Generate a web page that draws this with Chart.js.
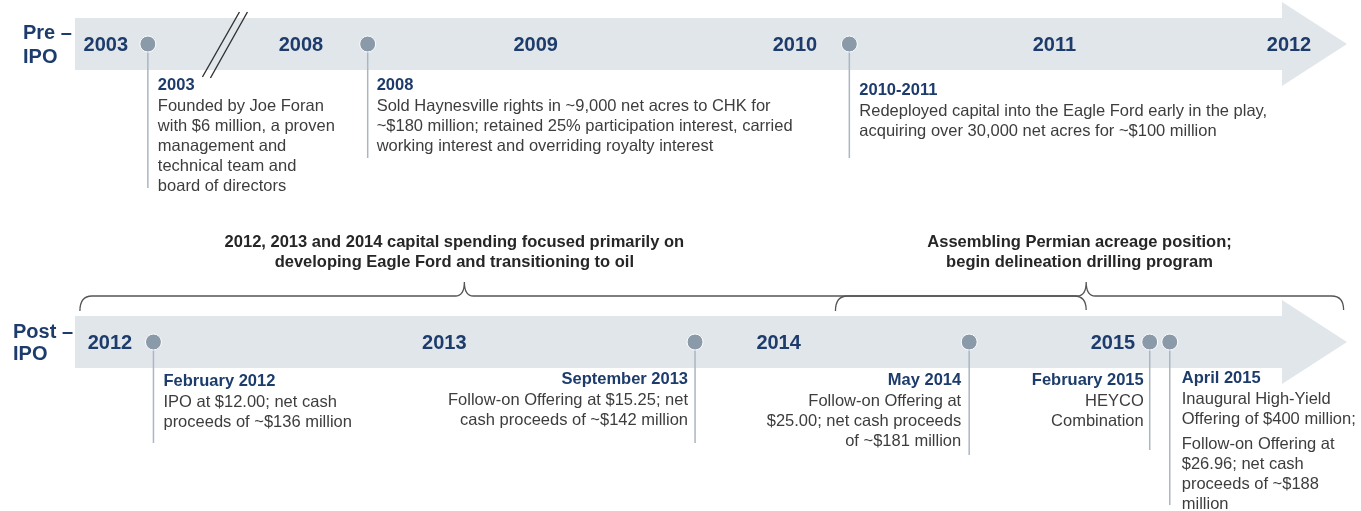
<!DOCTYPE html>
<html lang="en">
<head>
<meta charset="UTF-8" />
<title>Company Timeline: Pre-IPO and Post-IPO</title>
<script src="https://cdn.jsdelivr.net/npm/chart.js"></script>
<style>
  html, body { margin: 0; padding: 0; background: #fff; }
  .chart-box { position: relative; width: 1361px; height: 511px; }
</style>
</head>
<body>
<div class="chart-box"><canvas id="timeline"></canvas></div>
<script>
// Pre-IPO row, x in years (2003 sits before the axis break)
const preYearLabels = ['2003', '2008', '2009', '2010', '2011', '2012'];
const preYearPos = [2007.21, 2008, 2008.95, 2010, 2011.05, 2012];
const preAxisBreak = 2007.69;
const preEventPos = [2007.38, 2008.27, 2010.22];
const preEventTitles = ['2003', '2008', '2010-2011'];
const preEventText = [
  ['Founded by Joe Foran', 'with $6 million, a proven', 'management and', 'technical team and', 'board of directors'],
  ['Sold Haynesville rights in ~9,000 net acres to CHK for', '~$180 million; retained 25% participation interest, carried', 'working interest and overriding royalty interest'],
  ['Redeployed capital into the Eagle Ford early in the play,', 'acquiring over 30,000 net acres for ~$100 million']
];

// Post-IPO row, x in years
const postYearLabels = ['2012', '2013', '2014', '2015'];
const postYearPos = [2012, 2013, 2014, 2015];
const postEventPos = [2012.13, 2013.75, 2014.57, 2015.11, 2015.17];
const postEventTitles = ['February 2012', 'September 2013', 'May 2014', 'February 2015', 'April 2015'];
const postEventText = [
  ['IPO at $12.00; net cash', 'proceeds of ~$136 million'],
  ['Follow-on Offering at $15.25; net', 'cash proceeds of ~$142 million'],
  ['Follow-on Offering at', '$25.00; net cash proceeds', 'of ~$181 million'],
  ['HEYCO', 'Combination'],
  ['Inaugural High-Yield', 'Offering of $400 million;', '', 'Follow-on Offering at', '$26.96; net cash', 'proceeds of ~$188', 'million']
];

// Periods bracketed above the post-IPO row
const periodStart = [2011.91, 2014.17];
const periodEnd = [2014.92, 2015.69];
const periodMid = [2013.06, 2014.92];
const periodLabelPos = [2013.03, 2014.90];
const periodText = [
  ['2012, 2013 and 2014 capital spending focused primarily on', 'developing Eagle Ford and transitioning to oil'],
  ['Assembling Permian acreage position;', 'begin delineation drilling program']
];

const FONT = '"Liberation Sans", Arial, Helvetica, sans-serif';
const NAVY = '#1d3c6c';
const BODY = '#3d3d3d';
const BAND = '#e1e6eb';
const DOT = '#8a9aa8';
const STEM = '#aab6c1';

// note placement: text alignment, offset from dot, title offset and stem end below the row
const preNoteLayout = [
  { align: 'left', dx: 10, top: 41, stem: 144 },
  { align: 'left', dx: 9, top: 41, stem: 114 },
  { align: 'left', dx: 10, top: 46, stem: 114 }
];
const postNoteLayout = [
  { align: 'left', dx: 10, top: 39, stem: 101 },
  { align: 'right', dx: -7, top: 37, stem: 101 },
  { align: 'right', dx: -8, top: 38, stem: 113 },
  { align: 'right', dx: -6, top: 38, stem: 108 },
  { align: 'left', dx: 12, top: 36, stem: 163 }
];

function drawArrow(ctx, y) {
  ctx.fillStyle = BAND;
  ctx.beginPath();
  ctx.moveTo(75, y - 26);
  ctx.lineTo(1282, y - 26);
  ctx.lineTo(1282, y - 42);
  ctx.lineTo(1347, y);
  ctx.lineTo(1282, y + 42);
  ctx.lineTo(1282, y + 26);
  ctx.lineTo(75, y + 26);
  ctx.closePath();
  ctx.fill();
}

function drawBrace(ctx, x0, x1, xp, y) {
  ctx.beginPath();
  ctx.moveTo(x0, y + 15);
  ctx.quadraticCurveTo(x0, y, x0 + 12, y);
  ctx.lineTo(xp - 9, y);
  ctx.quadraticCurveTo(xp, y, xp, y - 14);
  ctx.quadraticCurveTo(xp, y, xp + 9, y);
  ctx.lineTo(x1 - 12, y);
  ctx.quadraticCurveTo(x1, y, x1, y + 14);
  ctx.stroke();
}

function drawNote(ctx, x, rowY, title, lines, lay) {
  const tx = x + lay.dx;
  let y = rowY + lay.top;
  ctx.textAlign = lay.align;
  ctx.textBaseline = 'middle';
  ctx.font = 'bold 16.5px ' + FONT;
  ctx.fillStyle = NAVY;
  ctx.fillText(title, tx, y);
  ctx.font = '16.5px ' + FONT;
  ctx.fillStyle = BODY;
  y += 21;
  lines.forEach(line => {
    if (line === '') { y += 5; return; }
    ctx.fillText(line, tx, y);
    y += 20;
  });
}

const timelineDecor = {
  id: 'timelineDecor',
  beforeDatasetsDraw(chart) {
    const { ctx, scales } = chart;
    const yPre = scales.y.getPixelForValue(1);
    const yPost = scales.y.getPixelForValue(0);
    ctx.save();
    drawArrow(ctx, yPre);
    drawArrow(ctx, yPost);

    // axis break marks
    const bx = scales.xPre.getPixelForValue(preAxisBreak);
    ctx.strokeStyle = '#333';
    ctx.lineWidth = 1.4;
    ctx.beginPath();
    ctx.moveTo(bx - 22, yPre + 33); ctx.lineTo(bx + 15, yPre - 32);
    ctx.moveTo(bx - 14, yPre + 34); ctx.lineTo(bx + 23, yPre - 32);
    ctx.stroke();

    // stems
    ctx.strokeStyle = STEM;
    ctx.lineWidth = 1.5;
    preEventPos.forEach((v, i) => {
      const x = scales.xPre.getPixelForValue(v);
      ctx.beginPath(); ctx.moveTo(x, yPre); ctx.lineTo(x, yPre + preNoteLayout[i].stem); ctx.stroke();
    });
    postEventPos.forEach((v, i) => {
      const x = scales.xPost.getPixelForValue(v);
      ctx.beginPath(); ctx.moveTo(x, yPost); ctx.lineTo(x, yPost + postNoteLayout[i].stem); ctx.stroke();
    });
    ctx.restore();
  },
  afterDatasetsDraw(chart) {
    const { ctx, scales } = chart;
    const yPre = scales.y.getPixelForValue(1);
    const yPost = scales.y.getPixelForValue(0);
    ctx.save();

    // row names
    ctx.fillStyle = NAVY;
    ctx.font = 'bold 20px ' + FONT;
    ctx.textAlign = 'left';
    ctx.textBaseline = 'middle';
    ctx.fillText('Pre –', 23, yPre - 11);
    ctx.fillText('IPO', 23, yPre + 13);
    ctx.fillText('Post –', 13, yPost - 10);
    ctx.fillText('IPO', 13, yPost + 12);

    // year labels on the arrows
    ctx.textAlign = 'center';
    preYearLabels.forEach((t, i) => ctx.fillText(t, scales.xPre.getPixelForValue(preYearPos[i]), yPre + 1));
    postYearLabels.forEach((t, i) => ctx.fillText(t, scales.xPost.getPixelForValue(postYearPos[i]), yPost + 1));

    // event notes
    preEventPos.forEach((v, i) => drawNote(ctx, scales.xPre.getPixelForValue(v), yPre, preEventTitles[i], preEventText[i], preNoteLayout[i]));
    postEventPos.forEach((v, i) => drawNote(ctx, scales.xPost.getPixelForValue(v), yPost, postEventTitles[i], postEventText[i], postNoteLayout[i]));

    // period braces
    ctx.strokeStyle = '#555';
    ctx.lineWidth = 1.3;
    periodStart.forEach((s, i) => {
      drawBrace(ctx, scales.xPost.getPixelForValue(s), scales.xPost.getPixelForValue(periodEnd[i]),
        scales.xPost.getPixelForValue(periodMid[i]), yPost - 46);
    });
    ctx.fillStyle = '#262626';
    ctx.font = 'bold 16.5px ' + FONT;
    ctx.textAlign = 'center';
    periodText.forEach((lines, i) => {
      const x = scales.xPost.getPixelForValue(periodLabelPos[i]);
      lines.forEach((line, j) => ctx.fillText(line, x, yPost - 100 + j * 20));
    });
    ctx.restore();
  }
};

new Chart(document.getElementById('timeline'), {
  type: 'scatter',
  data: {
    datasets: [
      {
        label: 'Pre-IPO',
        xAxisID: 'xPre',
        yAxisID: 'y',
        data: preEventPos.map(x => ({ x: x, y: 1 })),
        pointRadius: 8,
        pointBackgroundColor: DOT,
        pointBorderColor: '#ffffff',
        pointBorderWidth: 1
      },
      {
        label: 'Post-IPO',
        xAxisID: 'xPost',
        yAxisID: 'y',
        data: postEventPos.map(x => ({ x: x, y: 0 })),
        pointRadius: 8,
        pointBackgroundColor: DOT,
        pointBorderColor: '#ffffff',
        pointBorderWidth: 1
      }
    ]
  },
  options: {
    responsive: true,
    maintainAspectRatio: false,
    animation: false,
    events: [],
    layout: { padding: 0, autoPadding: false },
    plugins: { legend: { display: false }, tooltip: { enabled: false }, title: { display: false } },
    scales: {
      xPre: { type: 'linear', position: 'top', min: 2006.7814, max: 2012.2915, display: false },
      xPost: { type: 'linear', position: 'bottom', min: 2011.671, max: 2015.742, display: false },
      y: { type: 'linear', min: -0.5671, max: 1.1477, display: false }
    }
  },
  plugins: [timelineDecor]
});
</script>
</body>
</html>
